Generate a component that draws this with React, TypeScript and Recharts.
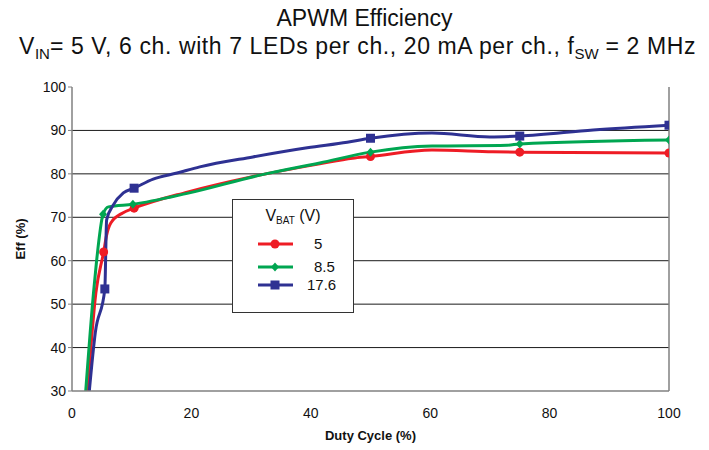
import React from "react";
import {
  LineChart,
  Line,
  XAxis,
  YAxis,
  ReferenceLine,
} from "recharts";

// duty cycle (%) / efficiency (%)
const redDuty = [2.6, 4.0, 5.3, 5.8, 6.5, 8.5, 10.4, 19.3, 30, 41.5, 47, 50, 60.3, 70.5, 75, 100];
const redEff = [30, 52.6, 62.0, 65.9, 68.7, 71.0, 72.1, 75.8, 79.3, 82.3, 83.6, 84.0, 85.5, 85.1, 85.0, 84.8];
const redMarks = [2, 6, 11, 14, 15];

const greenDuty = [2.3, 3.6, 4.1, 5.2, 6.1, 10.2, 19.3, 31.5, 41.5, 50, 60.3, 72.9, 75, 100];
const greenEff = [30, 52.6, 59.7, 70.7, 72.4, 73.0, 75.5, 79.7, 82.5, 85.0, 86.4, 86.6, 86.9, 87.8];
const greenMarks = [3, 5, 9, 12, 13];

const blueDuty = [2.9, 3.9, 5.5, 5.8, 6.9, 8.6, 10.4, 13.6, 17.6, 21.4, 30.3, 39.4, 46.1, 50, 60.3, 70, 75, 87.3, 100];
const blueEff = [30, 43.4, 53.5, 69.4, 72.8, 75.6, 76.7, 78.8, 80.2, 81.6, 83.9, 86.0, 87.3, 88.2, 89.4, 88.5, 88.7, 90.1, 91.2];
const blueMarks = [2, 6, 13, 16, 18];

const seriesNames = ["5", "8.5", "17.6"];
const xTicks = [0, 20, 40, 60, 80, 100];
const yTicks = [30, 40, 50, 60, 70, 80, 90, 100];
const gridTicks = [40, 50, 60, 70, 80, 90];

const RED = "#ee1c25";
const GREEN = "#00a651";
const BLUE = "#2e3192";
const FONT = "'Liberation Sans', Arial, sans-serif";

const toPoints = (xs: number[], ys: number[], marks: number[]) =>
  xs.map((x, i) => ({ x, y: ys[i], m: marks.includes(i) }));

const redData = toPoints(redDuty, redEff, redMarks);
const greenData = toPoints(greenDuty, greenEff, greenMarks);
const blueData = toPoints(blueDuty, blueEff, blueMarks);

const Marker = ({ kind, cx, cy, color }: { kind: string; cx: number; cy: number; color: string }) => {
  if (kind === "circle") return <circle cx={cx} cy={cy} r={4.5} fill={color} />;
  if (kind === "diamond")
    return (
      <path
        d={`M${cx},${cy - 4.5}L${cx + 4},${cy}L${cx},${cy + 4.5}L${cx - 4},${cy}Z`}
        fill={color}
      />
    );
  return <rect x={cx - 4.5} y={cy - 4.5} width={9} height={9} fill={color} />;
};

const makeDot = (kind: string, color: string) => (props: any) => {
  const { cx, cy, payload, index } = props;
  if (!payload || !payload.m) return <g key={`e-${index}`} />;
  return (
    <g key={`d-${index}`}>
      <Marker kind={kind} cx={cx} cy={cy} color={color} />
    </g>
  );
};

const LegendBox = () => {
  const rows = [
    { name: seriesNames[0], color: RED, kind: "circle", top: 38, left: 81 },
    { name: seriesNames[1], color: GREEN, kind: "diamond", top: 61, left: 81 },
    { name: seriesNames[2], color: BLUE, kind: "square", top: 79, left: 74 },
  ];
  return (
    <div
      style={{
        position: "absolute",
        left: 232,
        top: 199,
        width: 122,
        height: 114,
        border: "1.5px solid #333",
        background: "#fff",
        boxSizing: "border-box",
        fontFamily: FONT,
      }}
    >
      <div
        style={{
          position: "absolute",
          left: 0,
          right: 0,
          top: 7,
          textAlign: "center",
          fontSize: 16,
          color: "#111",
        }}
      >
        V<sub style={{ fontSize: 10, verticalAlign: "-3px" }}>BAT</sub> (V)
      </div>
      {rows.map((r) => (
        <div key={r.name}>
          <svg
            style={{ position: "absolute", left: 25, top: r.top, overflow: "visible" }}
            width={36}
            height={12}
          >
            <line x1={0} y1={6} x2={35} y2={6} stroke={r.color} strokeWidth={3} />
            <Marker kind={r.kind} cx={17} cy={6} color={r.color} />
          </svg>
          <div
            style={{
              position: "absolute",
              left: r.left,
              top: r.top - 3,
              fontSize: 15,
              color: "#111",
            }}
          >
            {r.name}
          </div>
        </div>
      ))}
    </div>
  );
};

export default function App() {
  return (
    <div
      style={{
        position: "absolute",
        left: 0,
        top: 0,
        width: 709,
        height: 450,
        background: "#fff",
        fontFamily: FONT,
      }}
    >
      <div
        style={{
          position: "absolute",
          left: 0,
          width: 709,
          top: 5,
          textAlign: "center",
          fontSize: 23,
          color: "#111",
          paddingLeft: 20,
          boxSizing: "border-box",
        }}
      >
        APWM Efficiency
      </div>
      <div
        style={{
          position: "absolute",
          left: 0,
          width: 709,
          top: 33,
          paddingLeft: 6,
          boxSizing: "border-box",
          textAlign: "center",
          fontSize: 23,
          letterSpacing: 0.6,
          color: "#111",
          whiteSpace: "nowrap",
        }}
      >
        V<sub style={{ fontSize: 15, verticalAlign: "-5px", letterSpacing: 0 }}>IN</sub>= 5 V, 6 ch. with 7 LEDs per
        ch., 20 mA per ch., f<sub style={{ fontSize: 15, verticalAlign: "-5px", letterSpacing: 0 }}>SW</sub> = 2 MHz
      </div>

      <LineChart
        width={709}
        height={450}
        margin={{ top: 87, right: 40, bottom: 29, left: 12 }}
        style={{ position: "absolute", left: 0, top: 0 }}
      >
        <XAxis
          type="number"
          dataKey="x"
          domain={[0, 100]}
          ticks={xTicks}
          allowDataOverflow
          tickLine={false}
          tickSize={4}
          tickMargin={13}
          height={30}
          axisLine={{ stroke: "#808080", strokeWidth: 1.5 }}
          tick={{ fill: "#111", fontSize: 14, fontFamily: FONT }}
          label={{
            value: "Duty Cycle (%)",
            position: "bottom",
            offset: 10,
            style: { fontWeight: "bold", fontSize: 13, fill: "#111", fontFamily: FONT },
          }}
        />
        <YAxis
          type="number"
          domain={[30, 100]}
          ticks={yTicks}
          allowDataOverflow
          width={60}
          tickSize={4}
          tickMargin={2}
          tickLine={{ stroke: "#808080" }}
          axisLine={{ stroke: "#808080", strokeWidth: 1.5 }}
          tick={{ fill: "#111", fontSize: 14, fontFamily: FONT }}
          label={{
            value: "Eff (%)",
            angle: -90,
            position: "insideLeft",
            offset: 8,
            style: { textAnchor: "middle", fontWeight: "bold", fontSize: 13, fill: "#111", fontFamily: FONT },
          }}
        />
        {gridTicks.map((t) => (
          <ReferenceLine key={t} y={t} stroke="#1a1a1a" strokeWidth={1} />
        ))}
        <ReferenceLine x={100} stroke="#808080" strokeWidth={1.5} />
        <Line
          data={redData}
          dataKey="y"
          type="monotone"
          stroke={RED}
          strokeWidth={3}
          dot={makeDot("circle", RED)}
          activeDot={false}
          isAnimationActive={false}
        />
        <Line
          data={greenData}
          dataKey="y"
          type="monotone"
          stroke={GREEN}
          strokeWidth={3}
          dot={makeDot("diamond", GREEN)}
          activeDot={false}
          isAnimationActive={false}
        />
        <Line
          data={blueData}
          dataKey="y"
          type="monotone"
          stroke={BLUE}
          strokeWidth={3}
          dot={makeDot("square", BLUE)}
          activeDot={false}
          isAnimationActive={false}
        />
      </LineChart>
      <LegendBox />
    </div>
  );
}
